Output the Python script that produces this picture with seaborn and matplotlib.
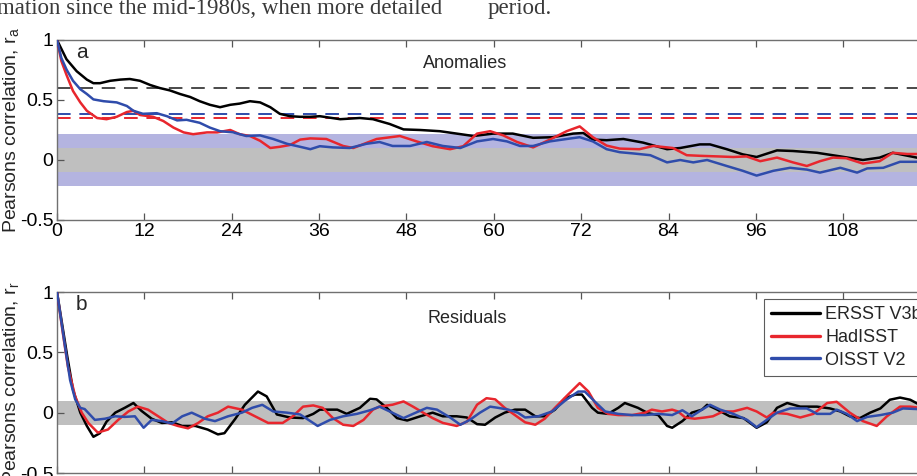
import pandas as pd
import matplotlib
matplotlib.use("Agg")
import matplotlib.pyplot as plt
import seaborn as sns

datasets = ["ERSST V3b", "HadISST", "OISST V2"]
line_colors = ["#000000", "#e8262d", "#2f4cab"]
dash_colors = ["#4a4a4a", "#e8262d", "#2f4cab"]

# panel a: lagged correlation of anomalies, (lag in months, r)
ersst_anom = [(0, 1.0), (1.3, 0.84), (2.7, 0.74), (4.1, 0.67), (5, 0.64), (5.9, 0.64), (7.3, 0.66),
              (8.7, 0.67), (10, 0.675), (11.4, 0.66), (12.8, 0.625), (14.1, 0.60), (15.5, 0.58),
              (16.9, 0.55), (18.3, 0.525), (19.6, 0.49), (21, 0.46), (22.4, 0.44), (23.8, 0.46),
              (25.1, 0.47), (26.5, 0.49), (27.9, 0.48), (29.3, 0.44), (30.6, 0.385), (32, 0.365),
              (33.4, 0.36), (34.8, 0.36), (36.1, 0.365), (38.9, 0.34), (41.6, 0.35), (43.4, 0.34),
              (45.7, 0.30), (47.6, 0.255), (49.9, 0.25), (52.6, 0.24), (54.9, 0.22), (57.2, 0.20),
              (59.9, 0.22), (62.6, 0.22), (65.4, 0.185), (68.1, 0.19), (70.9, 0.22), (72.3, 0.225),
              (73.6, 0.17), (75.5, 0.165), (77.8, 0.175), (80.5, 0.145), (83.8, 0.09), (85.6, 0.10),
              (88.3, 0.13), (89.7, 0.13), (92, 0.09), (94.2, 0.047), (96.1, 0.025), (98.9, 0.08),
              (101.1, 0.075), (104.4, 0.06), (107.6, 0.03), (110.7, 0.0), (113, 0.02), (114.8, 0.06),
              (118.1, 0.02), (120, 0.02)]
had_anom = [(0, 1.0), (0.6, 0.825), (1.3, 0.71), (2.2, 0.575), (3.2, 0.48), (4.1, 0.41), (5.5, 0.35),
            (6.8, 0.34), (8.2, 0.36), (9.6, 0.40), (10.5, 0.41), (11.4, 0.375), (13.2, 0.36),
            (14.6, 0.325), (16, 0.27), (17.4, 0.23), (18.7, 0.215), (20.6, 0.23), (22, 0.23),
            (23.8, 0.25), (25.1, 0.215), (26.5, 0.20), (27.9, 0.16), (29.3, 0.10), (30.6, 0.11),
            (32, 0.125), (33.4, 0.17), (34.8, 0.18), (37, 0.175), (39.3, 0.117), (40.7, 0.10),
            (43.9, 0.175), (47.1, 0.20), (49.4, 0.155), (51.6, 0.115), (54, 0.09), (55.8, 0.115),
            (57.7, 0.22), (59.5, 0.24), (61.3, 0.205), (63.2, 0.15), (65.4, 0.105), (67.7, 0.17),
            (70, 0.24), (71.8, 0.28), (73.6, 0.19), (75.5, 0.12), (77.3, 0.095), (80, 0.09),
            (81.9, 0.117), (84.6, 0.10), (86.5, 0.04), (88.3, 0.035), (90.7, 0.03), (92.9, 0.025),
            (94.7, 0.03), (96.6, -0.01), (98.9, 0.02), (101.1, -0.02), (103, -0.05), (104.8, -0.01),
            (106.6, 0.02), (108.4, 0.015), (110.7, -0.03), (113, -0.01), (114.8, 0.06), (116.8, 0.05),
            (120, 0.05)]
oi_anom = [(0, 1.0), (0.6, 0.85), (1.3, 0.755), (2.2, 0.66), (3.2, 0.59), (4.1, 0.55), (5, 0.505),
           (6.4, 0.49), (8.2, 0.48), (9.6, 0.45), (10.5, 0.41), (11.8, 0.385), (13.7, 0.39),
           (15.1, 0.365), (16.5, 0.33), (17.8, 0.335), (19.6, 0.31), (21, 0.27), (22.4, 0.24),
           (24.2, 0.23), (26, 0.20), (27.9, 0.205), (29.7, 0.175), (31.6, 0.135), (33.4, 0.11),
           (34.8, 0.09), (36.1, 0.115), (37.9, 0.105), (40.2, 0.10), (42.5, 0.135), (44.3, 0.15),
           (46.1, 0.117), (48.5, 0.117), (50.8, 0.15), (53, 0.117), (55.4, 0.10), (57.7, 0.155),
           (59.9, 0.175), (61.8, 0.155), (63.6, 0.117), (65.4, 0.117), (67.7, 0.155), (70, 0.175),
           (71.8, 0.19), (73.6, 0.155), (75.5, 0.09), (77.3, 0.065), (79.1, 0.055), (81.5, 0.04),
           (83.8, -0.02), (85.6, 0.0), (87.4, -0.02), (89.3, 0.0), (92, -0.05), (94.2, -0.09),
           (96.1, -0.13), (98.4, -0.09), (100.7, -0.065), (103, -0.08), (104.8, -0.105),
           (107.6, -0.065), (109.9, -0.105), (111.3, -0.07), (113.5, -0.065), (115.8, -0.015),
           (120, -0.015)]

# panel b: lagged correlation of residuals
ersst_resid = [(0, 1.0), (1.4, 0.47), (2.2, 0.19), (3.2, 0.0), (4.1, -0.11), (5, -0.2), (5.9, -0.17),
               (6.8, -0.075), (8, 0.0), (9.3, 0.04), (10.5, 0.08), (11.6, 0.015), (13, -0.05),
               (14.4, -0.085), (15.8, -0.08), (17.2, -0.11), (19, -0.11), (20.7, -0.14), (22.1, -0.18),
               (23, -0.17), (24.5, -0.05), (25.8, 0.065), (27.6, 0.175), (28.8, 0.135), (30.2, -0.015),
               (32, -0.04), (33.8, -0.045), (35.2, -0.01), (36.1, 0.025), (38.5, 0.025), (39.8, -0.01),
               (41.6, 0.04), (43, 0.115), (43.9, 0.11), (45.3, 0.04), (46.7, -0.045), (48.1, -0.065),
               (49.9, -0.03), (51.6, 0.0), (53, -0.03), (54.9, -0.03), (56.3, -0.04), (57.7, -0.095),
               (58.8, -0.1), (60.2, -0.04), (61.5, 0.0), (62.9, 0.025), (64.3, 0.025), (65.7, -0.03),
               (67, -0.03), (68.4, 0.025), (69.8, 0.12), (71.2, 0.15), (72.1, 0.15), (73.5, 0.04),
               (74.3, 0.0), (75.7, -0.01), (77.1, 0.04), (78, 0.08), (79.8, 0.04), (81.2, -0.005),
               (82.6, -0.02), (83.8, -0.11), (84.5, -0.125), (85.9, -0.07), (87.2, 0.0), (88.6, 0.025),
               (89.3, 0.065), (90.7, 0.025), (92.4, -0.03), (94.3, -0.045), (96.1, -0.125),
               (97.5, -0.08), (98.9, 0.04), (100.3, 0.08), (102.1, 0.05), (104.4, 0.05), (106.2, 0.035),
               (107.6, 0.01), (108.9, -0.03), (110.3, -0.045), (111.7, 0.0), (113.1, 0.035),
               (114.4, 0.107), (115.8, 0.125), (117.2, 0.107), (118.5, 0.065), (120, 0.04)]
had_resid = [(0, 1.0), (0.8, 0.66), (1.5, 0.38), (2.5, 0.135), (3.4, 0.0), (4.3, -0.085), (5.6, -0.165),
             (7, -0.14), (8.4, -0.06), (9.8, 0.01), (11.1, 0.05), (12.5, 0.025), (13.9, -0.03),
             (15.3, -0.085), (16.6, -0.11), (18, -0.13), (19.4, -0.085), (20.7, -0.03), (22.1, 0.0),
             (23.5, 0.05), (25.4, 0.025), (27.2, -0.03), (29, -0.085), (31, -0.085), (32.4, -0.03),
             (33.8, 0.05), (35.2, 0.06), (36.5, 0.04), (37.9, -0.045), (39.3, -0.1), (40.7, -0.11),
             (42.1, -0.06), (43.4, 0.025), (44.3, 0.05), (46.1, 0.066), (47.6, 0.093), (48.9, 0.05),
             (50.3, 0.0), (51.6, -0.045), (53, -0.085), (54.9, -0.11), (56.3, -0.075), (57.7, 0.066),
             (59, 0.12), (60.2, 0.11), (61.5, 0.04), (62.9, -0.02), (64.3, -0.08), (65.7, -0.1),
             (67, -0.05), (68.4, 0.04), (70.2, 0.15), (71.8, 0.245), (73, 0.175), (74.3, 0.04),
             (75.7, -0.01), (77.1, -0.02), (79, -0.02), (80.8, 0.0), (81.7, 0.025), (83.1, 0.01),
             (84.5, 0.025), (85.3, 0.01), (86.3, -0.04), (87.6, -0.05), (89, -0.04), (90.1, -0.03),
             (91.5, 0.01), (92.9, 0.01), (94.8, 0.04), (96.1, 0.01), (97.5, -0.04), (98.4, 0.0),
             (100.3, -0.01), (102.1, -0.04), (103.9, -0.01), (105.8, 0.08), (107.1, 0.09), (108.9, 0.0),
             (110.7, -0.07), (112.6, -0.11), (114, -0.03), (115.8, 0.05), (117.2, 0.05), (120, 0.03)]
oi_resid = [(0, 1.0), (1.1, 0.55), (1.8, 0.27), (2.5, 0.11), (3.2, 0.04), (3.8, 0.03), (5.2, -0.06),
            (6.6, -0.05), (8, -0.03), (9.3, -0.035), (10.7, -0.03), (11.9, -0.125), (13, -0.06),
            (14.4, -0.07), (15.8, -0.09), (17.2, -0.03), (18.5, 0.0), (20.3, -0.05), (21.7, -0.07),
            (23.5, -0.03), (25.4, 0.0), (26.8, 0.04), (28.2, 0.065), (29.7, 0.01), (31.6, 0.0),
            (33.4, -0.015), (34.8, -0.07), (35.8, -0.11), (37.5, -0.06), (39.3, -0.03), (41.2, -0.01),
            (43, 0.02), (44.3, 0.05), (45.7, 0.01), (47.6, -0.045), (48.9, -0.01), (50.8, 0.04),
            (52.2, 0.025), (54, -0.04), (55.4, -0.1), (56.7, -0.06), (58.1, 0.0), (59.5, 0.05),
            (60.6, 0.04), (62, 0.025), (63.3, 0.0), (64.3, -0.04), (66.1, -0.03), (68, 0.01),
            (69.8, 0.1), (71.6, 0.175), (72.5, 0.175), (73.9, 0.09), (75.3, 0.01), (77.1, -0.01),
            (79, -0.02), (80.8, -0.02), (82.6, -0.01), (84.5, -0.02), (85.9, 0.02), (87.2, -0.03),
            (88.6, 0.025), (89.7, 0.065), (91.1, 0.025), (92.9, -0.01), (94.8, -0.06), (96.1, -0.12),
            (97.5, -0.06), (98.9, 0.0), (100.7, 0.035), (103, 0.035), (104.4, -0.01), (106.2, -0.01),
            (107.1, 0.025), (108.5, -0.01), (109.9, -0.07), (111.3, -0.035), (113.1, -0.02),
            (114.8, 0.0), (116.2, 0.035), (120, 0.025)]

# significance levels (dashed) and confidence bands
anom_sig = [0.60, 0.35, 0.38]
anom_band_outer = 0.22
anom_band_inner = 0.10
resid_band = 0.10

x_ticks = [0, 12, 24, 36, 48, 60, 72, 84, 96, 108, 120]
# the 120 label lies outside the cropped picture
x_tick_labels = ["0", "12", "24", "36", "48", "60", "72", "84", "96", "108", ""]
y_ticks = [-0.5, 0, 0.5, 1]
y_tick_labels = ["-0.5", "0", "0.5", "1"]


def to_frame(series):
    parts = []
    for name, pts in zip(datasets, series):
        d = pd.DataFrame(pts, columns=["lag", "r"])
        d["dataset"] = name
        parts.append(d)
    return pd.concat(parts, ignore_index=True)


df_a = to_frame([ersst_anom, had_anom, oi_anom])
df_b = to_frame([ersst_resid, had_resid, oi_resid])

sns.set_theme(style="ticks")
plt.rcParams["font.family"] = ["Liberation Sans", "DejaVu Sans"]
plt.rcParams["axes.unicode_minus"] = False

fig = plt.figure(figsize=(9.17, 4.76), dpi=100)
W, H = 917, 476
# axes run past the right edge, as in the cropped original
ax_a = fig.add_axes([57 / W, 1 - 220 / H, 873.6 / W, 180 / H])
ax_b = fig.add_axes([57 / W, 1 - 473 / H, 873.6 / W, 181 / H])

palette = dict(zip(datasets, line_colors))

for ax in (ax_a, ax_b):
    ax.set_xlim(0, 120)
    ax.set_ylim(-0.5, 1)
    ax.set_xticks(x_ticks)
    ax.set_xticklabels(x_tick_labels)
    ax.set_yticks(y_ticks)
    ax.set_yticklabels(y_tick_labels)
    ax.tick_params(direction="in", length=5, width=0.9, color="#555555", top=True, right=True,
                   labelsize=14, pad=2.5, labelcolor="black")
    for s in ax.spines.values():
        s.set_color("#707070")
        s.set_linewidth(1.0)

# panel a
ax_a.axhspan(-anom_band_outer, anom_band_outer, color="#b4b4e0", lw=0, zorder=0)
ax_a.axhspan(-anom_band_inner, anom_band_inner, color="#bfbfbf", lw=0, zorder=0)
for lvl, c in zip(anom_sig, dash_colors):
    ax_a.axhline(lvl, color=c, lw=1.4, dashes=(7, 4.5), zorder=1)
sns.lineplot(data=df_a, x="lag", y="r", hue="dataset", palette=palette, estimator=None,
             lw=1.8, legend=False, ax=ax_a, zorder=3)
ax_a.set_xlabel("")
ax_a.set_ylabel("Pearsons correlation, $\\mathregular{r_a}$", fontsize=14)
ax_a.yaxis.set_label_coords(-0.041, 0.5)
ax_a.text(2.6, 0.85, "a", fontsize=15, va="baseline", ha="left")
ax_a.text(56, 0.77, "Anomalies", fontsize=13, va="baseline", ha="center")

# panel b
ax_b.axhspan(-resid_band, resid_band, color="#bfbfbf", lw=0, zorder=0)
sns.lineplot(data=df_b, x="lag", y="r", hue="dataset", palette=palette, estimator=None,
             lw=1.8, ax=ax_b, zorder=3)
ax_b.set_xlabel("")
ax_b.set_ylabel("Pearsons correlation, $\\mathregular{r_r}$", fontsize=14)
ax_b.yaxis.set_label_coords(-0.041, 0.5)
ax_b.text(2.6, 0.85, "b", fontsize=15, va="baseline", ha="left")
ax_b.text(56.3, 0.746, "Residuals", fontsize=13, va="baseline", ha="center")
leg = ax_b.legend(loc="upper left", bbox_to_anchor=(764 / W, 1 - 299 / H),
                  bbox_transform=fig.transFigure, frameon=True, fancybox=False,
                  fontsize=13, handlelength=2.7, handletextpad=0.3, labelspacing=0.32,
                  borderpad=0.4, borderaxespad=0)
leg.get_frame().set_edgecolor("#333333")
leg.get_frame().set_linewidth(0.8)
for h in leg.get_lines():
    h.set_linewidth(2.4)

# running page text above the figure (cropped)
fig.text(-3 / W, 1 - 14 / H, "mation since the mid-1980s, when more detailed",
         fontsize=16.5, family="Liberation Serif", color="#3a3a3a", va="baseline", ha="left")
fig.text(488 / W, 1 - 14 / H, "period.",
         fontsize=16.5, family="Liberation Serif", color="#3a3a3a", va="baseline", ha="left")

fig.savefig("out.png", dpi=100)
